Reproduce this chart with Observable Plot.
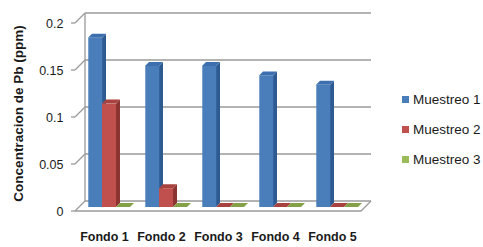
<!DOCTYPE html>
<html>
<head>
<meta charset="utf-8">
<script src="https://cdn.jsdelivr.net/npm/d3@7"></script>
<script src="https://cdn.jsdelivr.net/npm/@observablehq/plot@0.6"></script>
<style>
  body { margin: 0; background: #fff; }
  #wrap { position: relative; width: 483px; height: 247px; overflow: hidden; background: #fff; }
  #legend { position: absolute; left: 402px; top: 84px; font: 13.5px "Liberation Sans", Arial, sans-serif; color: #1a1a1a; }
  #legend .row { display: flex; align-items: center; height: 30px; white-space: nowrap; }
  #legend .sw { width: 7px; height: 7px; margin-right: 4px; }
</style>
</head>
<body>
<div id="wrap"></div>
<script>
// ---- data ----
const categories = ["Fondo 1", "Fondo 2", "Fondo 3", "Fondo 4", "Fondo 5"];
const seriesNames = ["Muestreo 1", "Muestreo 2", "Muestreo 3"];
const muestreo1 = [0.18, 0.15, 0.15, 0.14, 0.13];
const muestreo2 = [0.11, 0.02, 0, 0, 0];
const muestreo3 = [0, 0, 0, 0, 0];
const yTicks = [0, 0.05, 0.1, 0.15, 0.2];
const yTitle = "Concentracion de Pb (ppm)";

// ---- styles ----
const frontColors = ["#4a7ebb", "#c0504d", "#9bbb59"];
const sideColors = ["#2e5a92", "#8c3431", "#6d8839"];
const topColors = ["#3d6fae", "#a8423f", "#84a147"];
const gridColor = "#9a9a9a";

const seriesValues = [muestreo1, muestreo2, muestreo3];
const rows = [];
categories.forEach((c, i) => seriesNames.forEach((s, k) => rows.push({cat: c, series: s, k, value: seriesValues[k][i]})));

const W = 483, H = 247, ML = 80, MR = 117, MT = 19, MB = 40;
const padInner = 0.76, padOuter = 0.38;
const bw = (W - ML - MR) / categories.length * (1 - padInner);
const FRONT = [-5, 4], BACK = [5, -6], DEPTH = 4;

// back wall, floor and diagonal ticks
function walls(index, scales, values, dim) {
  const g = d3.create("svg:g").attr("fill", "none").attr("stroke", gridColor).attr("stroke-width", 1.3);
  const x0 = dim.marginLeft, x1 = dim.width - dim.marginRight;
  const y = scales.y;
  yTicks.forEach(v => {
    const yb = y(v) + BACK[1], yf = y(v) + FRONT[1];
    g.append("line").attr("x1", x0 + BACK[0]).attr("x2", x1 + BACK[0]).attr("y1", yb).attr("y2", yb);
    g.append("line").attr("x1", x0 + FRONT[0]).attr("x2", x0 + BACK[0]).attr("y1", yf).attr("y2", yb);
    g.append("line").attr("x1", x0 + FRONT[0] - 4).attr("x2", x0 + FRONT[0]).attr("y1", yf).attr("y2", yf);
  });
  const yb0 = y(0) + BACK[1], yf0 = y(0) + FRONT[1];
  g.append("line").attr("x1", x0 + BACK[0]).attr("x2", x0 + BACK[0]).attr("y1", y(0.2) + BACK[1]).attr("y2", yb0);
  g.append("path").attr("d", `M${x0 + FRONT[0]},${yf0}L${x1 + FRONT[0]},${yf0}L${x1 + BACK[0]},${yb0}`);
  return g.node();
}

// side and top faces of the 3D bars
function faces(index, scales) {
  const g = d3.create("svg:g");
  const b = scales.x.bandwidth();
  const yb = scales.y(0);
  rows.forEach(r => {
    const xa = scales.x(r.cat) + (r.k - 1) * b, xb = xa + b;
    const yt = scales.y(r.value);
    if (yb - yt > 0.5) {
      g.append("path").attr("fill", sideColors[r.k])
        .attr("d", `M${xb},${yt}L${xb + DEPTH},${yt - DEPTH}L${xb + DEPTH},${yb - DEPTH}L${xb},${yb}Z`);
    }
    g.append("path").attr("fill", topColors[r.k])
      .attr("d", `M${xa},${yt}L${xa + DEPTH},${yt - DEPTH}L${xb + DEPTH},${yt - DEPTH}L${xb},${yt}Z`);
  });
  return g.node();
}

const chart = Plot.plot({
  width: W, height: H,
  marginLeft: ML, marginRight: MR, marginTop: MT, marginBottom: MB,
  x: {domain: categories, paddingInner: padInner, paddingOuter: padOuter, axis: null},
  y: {domain: [0, 0.2], axis: null},
  style: {fontFamily: "'Liberation Sans', Arial, sans-serif", background: "#fff", color: "#1a1a1a"},
  marks: [
    walls,
    faces,
    ...seriesNames.map((s, k) => Plot.barY(rows.filter(d => d.k === k), {
      x: "cat", y: "value", fill: frontColors[k], dx: (k - 1) * bw
    })),
    Plot.text(yTicks, {y: d => d, text: d => String(d), frameAnchor: "left", textAnchor: "end",
      dx: -17, dy: FRONT[1], fontSize: 12.5, fill: "#1a1a1a"}),
    Plot.text(categories, {x: d => d, text: d => d, frameAnchor: "bottom", dx: FRONT[0], dy: 33,
      fontSize: 12.5, fontWeight: "bold", fill: "#1a1a1a"}),
    Plot.text([yTitle], {frameAnchor: "left", textAnchor: "middle", rotate: -90, dx: -62, fontSize: 13.5, fontWeight: "bold", fill: "#1a1a1a"})
  ]
});

const wrap = document.getElementById("wrap");
wrap.appendChild(chart);
const legend = document.createElement("div");
legend.id = "legend";
seriesNames.forEach((s, k) => {
  const row = document.createElement("div");
  row.className = "row";
  const sw = document.createElement("span");
  sw.className = "sw";
  sw.style.background = frontColors[k];
  const t = document.createElement("span");
  t.textContent = s;
  row.appendChild(sw); row.appendChild(t);
  legend.appendChild(row);
});
wrap.appendChild(legend);
</script>
</body>
</html>
